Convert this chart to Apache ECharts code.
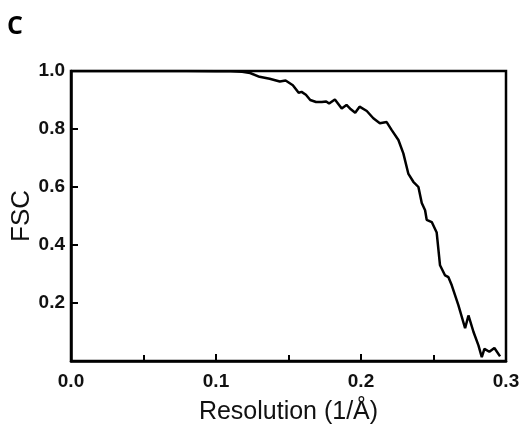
<!DOCTYPE html>
<html>
<head>
<meta charset="utf-8">
<script src="https://cdn.jsdelivr.net/npm/echarts@6/dist/echarts.min.js"></script>
<style>
  html, body { margin: 0; padding: 0; background: #fff; }
  #main { width: 524px; height: 430px; }
</style>
</head>
<body>
<div id="main"></div>
<script>
// FSC curve
var resolution = [0, 0.02, 0.05, 0.08, 0.1, 0.11, 0.118, 0.1235, 0.13, 0.137, 0.144, 0.148, 0.153, 0.157, 0.159, 0.162,
  0.165, 0.169, 0.173, 0.176, 0.178, 0.182, 0.1867, 0.19, 0.193, 0.196, 0.199, 0.204, 0.2085, 0.213, 0.2177,
  0.2212, 0.2258, 0.2292, 0.2327, 0.2361, 0.2396, 0.2419, 0.2442, 0.2453, 0.2488, 0.2522, 0.2545, 0.258,
  0.2603, 0.2626, 0.2672, 0.2718, 0.2741, 0.2776, 0.281, 0.2833, 0.2851, 0.2885, 0.292, 0.2959];
var fsc = [1.0, 1.0, 1.0, 1.0, 0.999, 0.999, 0.997, 0.993, 0.98, 0.973, 0.964, 0.967, 0.951, 0.925, 0.928, 0.918,
  0.9, 0.893, 0.893, 0.895, 0.888, 0.902, 0.871, 0.883, 0.868, 0.856, 0.877, 0.862, 0.837, 0.82, 0.824,
  0.796, 0.762, 0.716, 0.645, 0.618, 0.6, 0.545, 0.52, 0.487, 0.479, 0.443, 0.33, 0.295,
  0.289, 0.261, 0.192, 0.113, 0.157, 0.1, 0.054, 0.013, 0.042, 0.032, 0.045, 0.016];

var xTicks = [0, 0.1, 0.2, 0.3];
var yTicks = [0, 0.2, 0.4, 0.6, 0.8, 1.0];

var chart = echarts.init(document.getElementById('main'));

var pts = [];
for (var i = 0; i < resolution.length; i++) {
  pts.push([resolution[i], fsc[i]]);
}

var option = {
  animation: false,
  backgroundColor: '#fff',
  title: {
    text: 'C',
    left: 2,
    top: 9,
    textStyle: { fontFamily: 'Open Sans', fontWeight: 'bold', fontSize: 25, color: '#000' }
  },
  grid: {
    left: 71,
    right: 18,
    top: 71,
    bottom: 69,
    outerBoundsMode: 'none',
    containLabel: false,
    show: true,
    borderColor: '#000',
    borderWidth: 2.5
  },
  xAxis: {
    type: 'value',
    min: xTicks[0],
    max: xTicks[xTicks.length - 1],
    interval: 0.1,
    name: 'Resolution (1/Å)',
    nameLocation: 'middle',
    nameGap: 39,
    nameTextStyle: { fontFamily: 'Liberation Sans', fontSize: 25, color: '#111' },
    axisLine: { lineStyle: { color: '#000', width: 2.5 } },
    axisTick: { inside: true, length: 7, lineStyle: { color: '#000', width: 2 } },
    minorTick: { show: true, splitNumber: 2, length: 6, lineStyle: { color: '#000', width: 2 } },
    splitLine: { show: false },
    axisLabel: {
      margin: 11,
      fontFamily: 'Liberation Sans',
      fontWeight: 'bold',
      fontSize: 19,
      color: '#111',
      formatter: function(v) { return v.toFixed(1); }
    }
  },
  yAxis: {
    type: 'value',
    min: yTicks[0],
    max: yTicks[yTicks.length - 1],
    interval: 0.2,
    name: 'FSC',
    nameLocation: 'middle',
    nameGap: 36,
    nameMoveOverlap: false,
    nameRotate: 90,
    nameTextStyle: { fontFamily: 'Liberation Sans', fontSize: 26, color: '#111' },
    axisLine: { show: true, lineStyle: { color: '#000', width: 2.5 } },
    axisTick: { show: true, inside: true, length: 7, lineStyle: { color: '#000', width: 2 } },
    splitLine: { show: false },
    axisLabel: {
      margin: 6,
      fontFamily: 'Liberation Sans',
      fontWeight: 'bold',
      fontSize: 19,
      color: '#111',
      formatter: function(v) { return v === 0 ? '' : v.toFixed(1); }
    }
  },
  series: [
    {
      type: 'line',
      data: pts,
      showSymbol: false,
      lineStyle: { color: '#000', width: 2.5 }
    }
  ]
};
chart.setOption(option);
</script>
</body>
</html>
